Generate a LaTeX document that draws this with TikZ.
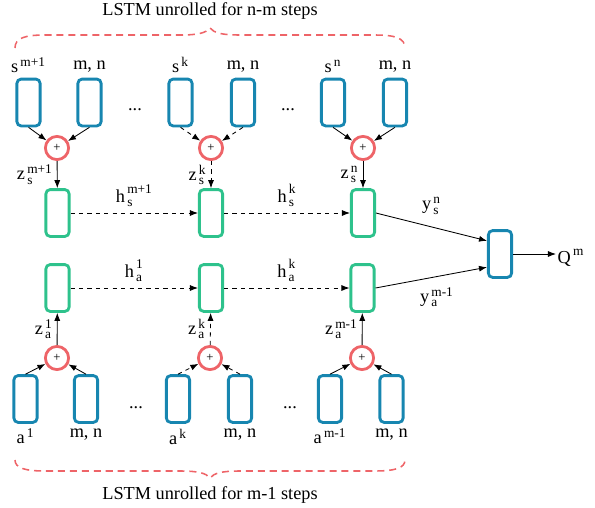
\documentclass[tikz,border=0pt]{standalone}
\usepackage{amsmath}
\usepackage{fontspec}
\setmainfont{Liberation Serif}
\usetikzlibrary{arrows.meta, positioning}
\DeclareMathSizes{13}{13}{9.5}{7}

\definecolor{inblue}{HTML}{1786B0}
\definecolor{cellgreen}{HTML}{2EC28C}
\definecolor{sumred}{HTML}{EE6468}

% labels with super- and subscript
\newcommand{\lab}[3]{$\text{#1}^{\,\text{#2}}_{\,\text{#3}}$}
\newcommand{\labsup}[2]{$\text{#1}^{\,\text{#2}}$}

\begin{document}
\begin{tikzpicture}[x=0.025cm, y=-0.025cm,
  font=\fontsize{13}{15}\selectfont,
  inbox/.style={draw=inblue, line width=2pt, rounded corners=3pt,
    minimum width=0.58cm, minimum height=1.17cm, inner sep=0pt},
  cell/.style={inbox, draw=cellgreen},
  sum/.style={circle, draw=sumred, line width=2pt, minimum size=0.58cm,
    inner sep=0pt, font=\fontsize{9}{9}\selectfont},
  arr/.style={-{Latex[length=2mm,width=1.5mm]}, semithick},
  darr/.style={arr, dashed},
  zlab/.style={left=3pt, inner sep=0pt},
  brace/.style={draw=sumred, line width=1.1pt, dash pattern=on 5pt off 3.5pt}]
\useasboundingbox (0,0) rectangle (595,508);

% upper LSTM (states)
\node [inbox] (s1) at (28.5,102.5){};
\node [inbox] (mA) at (89.5,102.5){};
\node [inbox] (s2) at (180.5,102.5){};
\node [inbox] (mB) at (243,102.5){};
\node [inbox] (s3) at (333,102.5){};
\node [inbox] (mC) at (395,102.5){};

\node [sum] (ps1) at (57,148){+};
\node [sum] (ps2) at (211,148){+};
\node [sum] (ps3) at (363,148){+};

\node [cell] (gs1) at (57.5,213){};
\node [cell] (gs2) at (211,213){};
\node [cell] (gs3) at (363,213){};

\node [above=0pt of s1] (ls1) {\labsup{s}{m+1}};
\node [above=0pt of mA] (lmA) {m, n};
\node [above=0pt of s2] (ls2) {\labsup{s}{k}};
\node [above=0pt of mB] (lmB) {m, n};
\node [above=0pt of s3] (ls3) {\labsup{s}{n}};
\node [above=0pt of mC] (lmC) {m, n};

\node [anchor=base] (d1) at (135,110){...};
\node [anchor=base] (d2) at (288,110){...};

\draw[arr] (s1.south) -- (ps1);
\draw[arr] (mA.south) -- (ps1);
\draw[darr] (s2.south) -- (ps2);
\draw[darr] (mB.south) -- (ps2);
\draw[arr] (s3.south) -- (ps3);
\draw[arr] (mC.south) -- (ps3);

\draw[arr] (ps1) -- (gs1) node[midway, zlab] (zs1) {\lab{z}{m+1}{s}};
\draw[darr] (ps2) -- (gs2) node[midway, zlab] (zs2) {\lab{z}{k}{s}};
\draw[arr] (ps3) -- (gs3) node[midway, zlab] (zs3) {\lab{z}{n}{s}};

\draw[darr] (gs1) -- (gs2) node[midway, above=1pt] (hs1) {\lab{h}{m+1}{s}};
\draw[darr] (gs2) -- (gs3) node[midway, above=1pt] (hs2) {\lab{h}{k}{s}};

% lower LSTM (actions)
\node [inbox] (a1) at (25.5,399){};
\node [inbox] (nA) at (86,399){};
\node [inbox] (a2) at (178,399){};
\node [inbox] (nB) at (240,399){};
\node [inbox] (a3) at (330,399){};
\node [inbox] (nC) at (391.5,399){};

\node [sum] (pa1) at (57,358){+};
\node [sum] (pa2) at (210,358){+};
\node [sum] (pa3) at (362,358){+};

\node [cell] (ga1) at (57.5,288){};
\node [cell] (ga2) at (211,288){};
\node [cell] (ga3) at (362.5,288){};

\node [below=0pt of a1] (la1) {\labsup{a}{1}};
\node [below=0pt of nA] (lnA) {m, n};
\node [below=0pt of a2] (la2) {\labsup{a}{k}};
\node [below=0pt of nB] (lnB) {m, n};
\node [below=0pt of a3] (la3) {\labsup{a}{m-1}};
\node [below=0pt of nC] (lnC) {m, n};

\node [anchor=base] (d3) at (136,408){...};
\node [anchor=base] (d4) at (290,408){...};

\draw[arr] (a1.north) -- (pa1);
\draw[arr] (nA.north) -- (pa1);
\draw[darr] (a2.north) -- (pa2);
\draw[darr] (nB.north) -- (pa2);
\draw[arr] (a3.north) -- (pa3);
\draw[arr] (nC.north) -- (pa3);

\draw[arr] (pa1) -- (ga1) node[midway, zlab] (za1) {\lab{z}{1}{a}};
\draw[darr] (pa2) -- (ga2) node[midway, zlab] (za2) {\lab{z}{k}{a}};
\draw[arr] (pa3) -- (ga3) node[midway, zlab] (za3) {\lab{z}{m-1}{a}};

\draw[darr] (ga1) -- (ga2) node[midway, above=1pt] (ha1) {\lab{h}{1}{a}};
\draw[darr] (ga2) -- (ga3) node[midway, above=1pt] (ha2) {\lab{h}{k}{a}};

% output
\node [inbox] (out) at (500,254){};
\node [anchor=base west, inner sep=1pt] (Q) at (556,263){\labsup{Q}{m}};

\draw[arr] (gs3.east) -- ([yshift=0.33cm]out.west) node[pos=0.5, above=5pt] (ys) {\lab{y}{n}{s}};
\draw[arr] (ga3.east) -- ([yshift=-0.33cm]out.west) node[pos=0.55, below=4pt] (ya) {\lab{y}{m-1}{a}};
\draw[arr] (out) -- (out -| Q.west);

% braces
\draw[brace] (15,48) .. controls (15,38) and (25,35) .. (45,35) -- (180,35)
  .. controls (198,35) and (206,33) .. (210,28)
  .. controls (214,33) and (222,35) .. (240,35) -- (375,35)
  .. controls (395,35) and (405,38) .. (405,48);
\node (tt) at (210,11){LSTM unrolled for n-m steps};

\draw[brace] (15,460) .. controls (15,468) and (25,471) .. (45,471) -- (180,471)
  .. controls (198,471) and (206,473) .. (210,478)
  .. controls (214,473) and (222,471) .. (240,471) -- (375,471)
  .. controls (395,471) and (405,468) .. (405,460);
\node (bt) at (210,495){LSTM unrolled for m-1 steps};

\end{tikzpicture}
\end{document}
